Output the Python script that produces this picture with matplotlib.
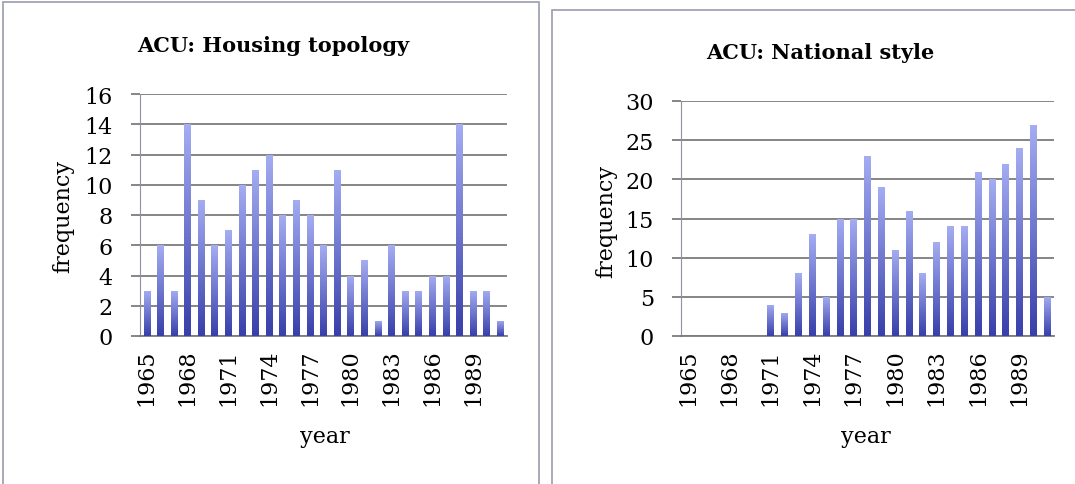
import matplotlib
matplotlib.use('Agg')
import matplotlib.pyplot as plt
import matplotlib.transforms as mtransforms
import numpy as np
from matplotlib.patches import Rectangle

years = list(range(1965, 1992))
housing = [3, 6, 3, 14, 9, 6, 7, 10, 11, 12, 8, 9, 8, 6, 11, 4, 5, 1, 6, 3, 3, 4, 4, 14, 3, 3, 1]
national = [0, 0, 0, 0, 0, 0, 4, 3, 8, 13, 5, 15, 15, 23, 19, 11, 16, 8, 12, 14, 14, 21, 20, 22, 24, 27, 5]
tick_years = list(range(1965, 1992, 3))

W, H = 1075, 485
plt.rcParams['font.family'] = ['DejaVu Serif']
fig = plt.figure(figsize=(W / 100, H / 100), dpi=100)

# bar gradient: light on top, dark at the bottom
grad = np.linspace(0, 1, 64).reshape(-1, 1)
top_col = np.array([164, 172, 242]) / 255
bot_col = np.array([56, 64, 170]) / 255


def px(x0, y0, x1, y1):
    # pixel box (top-left origin) -> figure fraction rect
    return [x0 / W, 1 - y1 / H, (x1 - x0) / W, (y1 - y0) / H]


def draw_panel(rect, values, ymax, ystep, title, title_xy, ylab_xy, xlab_xy, box):
    fig.patches.append(Rectangle((box[0] / W, 1 - box[3] / H), (box[2] - box[0]) / W,
                                 (box[3] - box[1]) / H, transform=fig.transFigure,
                                 fill=False, edgecolor='#9a9cae', lw=1.2))
    ax = fig.add_axes(px(*rect))
    x = np.arange(len(years))
    bars = ax.bar(x, values, width=0.48, color='#6a72d0', zorder=2)
    cmap = matplotlib.colors.ListedColormap(top_col + (bot_col - top_col) * grad)
    for b in bars:
        h = b.get_height()
        if h <= 0:
            continue
        x0 = b.get_x()
        im = ax.imshow(grad, cmap=cmap, aspect='auto', zorder=3,
                       extent=(x0, x0 + b.get_width(), 0, h), origin='upper')
        im.set_clip_path(b)
    ax.set_xlim(-0.5, len(years) - 0.5)
    ax.set_ylim(0, ymax)
    ax.set_yticks(np.arange(0, ymax + 1, ystep))
    ax.set_xticks([years.index(y) for y in tick_years])
    ax.set_xticklabels([str(y) for y in tick_years], rotation=90)
    shift = mtransforms.ScaledTranslation(4 / 100, 0, fig.dpi_scale_trans)
    for lab in ax.get_xticklabels():
        lab.set_transform(lab.get_transform() + shift)
    ax.yaxis.grid(True, color='#7c7c7c', lw=1.3, zorder=1)
    ax.set_axisbelow(True)
    for s in ['top', 'right']:
        ax.spines[s].set_visible(False)
    ax.spines['left'].set_color('#9090a0')
    ax.spines['bottom'].set_color('#7c7c7c')
    ax.spines['bottom'].set_linewidth(1.3)
    ax.tick_params(axis='y', length=6.5, width=1.3, color='#7c7c7c', labelsize=16, pad=13)
    ax.tick_params(axis='x', length=0, labelsize=16, pad=9)
    fig.text(title_xy[0] / W, 1 - title_xy[1] / H, title, ha='center', va='center',
             fontsize=15, fontweight='bold')
    fig.text(ylab_xy[0] / W, 1 - ylab_xy[1] / H, 'frequency', ha='center', va='center',
             rotation=90, fontsize=16)
    fig.text(xlab_xy[0] / W, 1 - xlab_xy[1] / H, 'year', ha='center', va='center', fontsize=16)
    return ax


draw_panel((140, 95, 507, 337), housing, 16, 2, 'ACU: Housing topology',
           (273, 46), (63, 216), (325, 437), (3, 3, 539, 490))
draw_panel((681, 102, 1054, 337), national, 30, 5, 'ACU: National style',
           (820, 53), (606, 221), (866, 437), (552, 11, 1085, 490))

fig.savefig('out.png', dpi=100)
